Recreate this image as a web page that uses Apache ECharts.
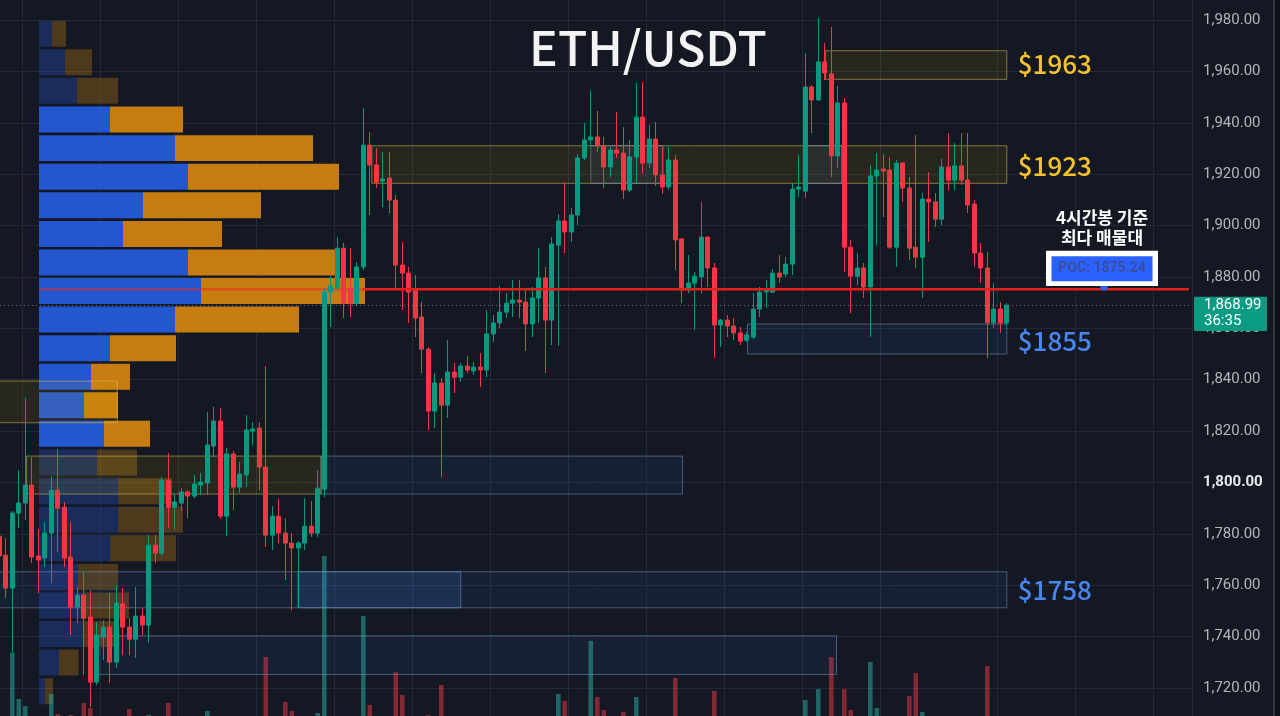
<!DOCTYPE html>
<html>
<head>
<meta charset="utf-8">
<title>ETH/USDT</title>
<script src="https://cdn.jsdelivr.net/npm/echarts@6.0.0/dist/echarts.min.js"></script>
<style>
html,body{margin:0;padding:0;background:#141823;overflow:hidden;}
#chart{width:1280px;height:716px;}
</style>
</head>
<body>
<div id="chart"></div>
<script>
// ---------------- data ----------------
const opens = [
1779.1,1771.7,1758.9,1788.1,1792.0,1799.0,1771.4,1770.6,1780.3,1797.0,
1790.4,1771.0,1751.5,1756.2,1747.6,1722.3,1739.8,1743.7,1730.1,1752.7,
1743.7,1739.0,1748.0,1744.5,1775.6,1772.5,1800.9,1790.4,1792.0,1796.3,
1794.7,1799.0,1799.8,1814.2,1823.9,1786.9,1811.1,1798.2,1802.9,1820.0,
1821.2,1806.0,1779.5,1786.9,1780.3,1776.4,1774.5,1776.4,1783.0,1780.3,
1797.4,1874.1,1875.7,1891.2,1875.7,1869.8,1883.9,1931.3,1923.6,1917.3,
1918.5,1909.9,1884.6,1881.5,1874.9,1864.4,1851.9,1827.8,1838.7,1830.1,
1843.0,1841.0,1845.3,1843.4,1844.9,1843.8,1857.8,1862.1,1866.3,1869.8,
1871.0,1870.2,1861.7,1871.8,1879.6,1863.2,1892.4,1901.8,1897.5,1904.1,
1926.3,1933.3,1934.5,1931.0,1922.8,1929.4,1928.2,1913.8,1926.7,1942.2,
1924.3,1933.7,1919.7,1915.0,1925.5,1894.8,1874.9,1877.6,1880.0,1895.5,
1883.5,1861.3,1863.2,1860.9,1858.2,1855.4,1856.6,1867.5,1874.1,1874.1,
1881.5,1881.1,1885.0,1914.2,1913.4,1953.9,1948.9,1963.7,1959.0,1927.1,
1947.7,1891.6,1880.3,1883.5,1876.1,1919.3,1922.0,1921.6,1891.6,1924.3,
1914.6,1891.6,1887.7,1910.3,1909.2,1902.5,1922.8,1917.7,1923.2,1917.7,
1908.4,1889.3,1883.5,1862.1,1867.5,1862.1
];
const closes = [
1771.4,1758.9,1788.1,1792.0,1799.0,1771.0,1769.8,1780.3,1797.0,1790.0,
1770.6,1751.5,1756.2,1747.2,1722.3,1740.6,1743.7,1730.1,1753.1,1743.7,
1739.0,1748.0,1744.5,1775.6,1772.5,1800.9,1790.4,1792.4,1796.3,1794.7,
1799.4,1800.2,1814.6,1823.9,1786.9,1811.1,1798.2,1803.3,1820.4,1820.8,
1806.0,1779.5,1786.9,1780.3,1776.4,1774.5,1776.4,1783.0,1780.3,1797.8,
1874.1,1876.5,1891.2,1869.8,1869.8,1883.9,1931.3,1923.6,1916.9,1918.1,
1909.9,1884.6,1881.5,1874.1,1864.0,1851.9,1827.8,1838.7,1830.1,1843.0,
1841.0,1845.3,1843.8,1844.9,1843.8,1857.8,1862.1,1866.3,1869.8,1871.0,
1870.2,1861.7,1871.8,1879.6,1863.2,1892.8,1901.8,1897.5,1904.1,1926.3,
1933.3,1934.5,1931.0,1922.8,1929.4,1928.2,1913.8,1926.7,1942.2,1924.3,
1933.7,1919.7,1915.0,1925.5,1894.4,1874.9,1877.6,1880.3,1895.5,1883.5,
1861.3,1863.2,1860.9,1858.2,1855.0,1857.4,1867.5,1874.1,1874.9,1881.5,
1880.0,1885.0,1914.2,1915.0,1953.9,1948.9,1963.7,1959.4,1927.1,1947.7,
1891.6,1880.3,1883.5,1876.1,1919.3,1921.6,1921.2,1891.6,1924.3,1914.6,
1891.2,1887.7,1910.3,1909.2,1902.5,1922.8,1917.7,1923.2,1917.7,1908.0,
1889.3,1883.5,1862.1,1867.5,1862.1,1868.99
];
const highs = [
1783.4,1778.4,1788.9,1804.8,1832.9,1809.9,1781.9,1784.6,1802.5,1813.0,
1792.4,1784.6,1759.3,1765.1,1758.1,1745.7,1746.4,1757.0,1759.7,1758.9,
1747.2,1759.3,1751.1,1779.5,1779.5,1802.1,1811.5,1795.9,1797.8,1797.0,
1802.9,1803.7,1827.4,1829.4,1829.0,1813.4,1812.2,1807.9,1826.2,1823.5,
1823.5,1845.3,1790.8,1793.5,1786.1,1780.3,1777.2,1793.9,1792.8,1804.8,
1875.7,1880.3,1895.5,1893.2,1891.2,1885.8,1945.7,1936.4,1930.2,1928.6,
1928.6,1911.9,1893.6,1883.9,1880.7,1870.2,1852.7,1842.6,1840.6,1855.4,
1846.5,1846.5,1849.2,1846.9,1850.4,1867.1,1865.2,1876.5,1873.7,1878.8,
1878.8,1874.9,1876.1,1891.2,1883.9,1895.5,1904.5,1916.9,1906.8,1927.8,
1939.9,1952.4,1944.6,1934.5,1930.6,1944.2,1938.3,1933.3,1955.5,1955.9,
1939.1,1940.3,1930.6,1930.6,1927.4,1895.1,1888.5,1881.9,1909.2,1895.9,
1885.4,1863.6,1865.2,1864.0,1860.5,1858.6,1873.7,1876.1,1878.8,1883.1,
1888.5,1887.7,1916.6,1927.4,1967.2,1954.7,1980.8,1971.0,1977.3,1954.3,
1949.6,1894.4,1889.3,1885.4,1923.6,1928.2,1927.8,1926.7,1925.5,1924.7,
1918.9,1935.2,1912.7,1920.8,1912.7,1925.9,1936.0,1932.1,1936.0,1936.0,
1909.9,1893.2,1889.7,1877.6,1870.2,1869.8
];
const lows = [
1767.9,1755.0,1733.6,1782.3,1785.4,1768.6,1757.0,1767.1,1760.8,1772.9,
1767.1,1740.6,1745.3,1725.0,1712.6,1721.1,1730.9,1721.9,1727.8,1732.8,
1732.8,1731.7,1740.6,1737.5,1768.6,1771.4,1782.3,1781.5,1788.9,1786.1,
1793.9,1795.1,1795.1,1809.9,1785.8,1779.1,1789.3,1795.9,1798.2,1814.6,
1797.0,1774.9,1773.7,1776.4,1762.0,1750.3,1751.5,1773.7,1778.8,1778.8,
1794.3,1860.5,1874.9,1864.0,1864.4,1868.7,1882.7,1904.1,1914.6,1907.2,
1904.9,1875.7,1867.1,1862.1,1856.6,1842.6,1820.4,1821.2,1802.1,1825.1,
1834.8,1839.1,1842.6,1841.8,1837.1,1841.0,1854.7,1860.1,1864.0,1864.4,
1864.0,1851.2,1856.6,1862.1,1842.6,1853.5,1853.1,1889.3,1893.6,1900.2,
1925.5,1931.3,1928.6,1914.6,1918.9,1926.3,1910.3,1913.0,1916.6,1920.4,
1922.4,1915.4,1912.3,1913.8,1882.7,1869.8,1873.7,1859.3,1873.7,1876.1,
1848.4,1852.7,1856.6,1855.4,1853.5,1854.7,1855.8,1864.4,1867.9,1873.7,
1877.6,1880.0,1880.7,1911.1,1910.7,1936.0,1948.5,1956.6,1918.9,1922.4,
1881.9,1865.9,1876.8,1871.8,1856.6,1892.4,1903.3,1890.9,1883.9,1909.2,
1886.6,1883.5,1871.8,1893.6,1899.4,1900.2,1913.8,1913.8,1915.8,1904.9,
1883.9,1877.6,1848.4,1860.1,1858.2,1861.3
];
// visible part of each volume bar (arbitrary units)
const volumes = [
0,0,63,17,10,0,0,0,22,2,
0,1,0,13,8,0,0,0,0,0,
7,0,0,1,0,0,13,0,0,0,
0,0,5,0,0,0,0,0,0,0,
0,59,0,0,14,5,0,0,0,3,
160,0,0,0,0,0,100,11,0,0,
0,44,21,0,0,0,1,0,31,0,
0,0,0,0,0,0,0,0,0,0,
0,0,0,0,0,0,22,15,0,0,
0,75,19,6,0,0,4,0,19,0,
0,0,0,0,38,0,0,0,0,0,
25,0,0,0,0,0,0,0,0,0,
0,0,0,0,16,0,27,0,59,0,
27,6,0,0,54,8,0,0,0,0,
20,43,4,0,0,0,0,0,0,0,
0,0,50,0,0,0
];
const slotCount = 184;                 // candle slots incl. empty right margin
const priceMin = 1700, priceMax = 2000, priceStep = 20;
const verticalGridSlots = [4,16,28,40,52,64,76,88,100,112,124,136,154,166,178];

// Volume profile (visible range), rows from top
const profileRowTop = [1980.2,1969.1,1958.0,1946.8,1935.7,1924.6,1913.5,1902.3,1891.2,1880.1,1869.0,1857.8,
                       1846.7,1835.6,1824.5,1813.3,1802.2,1791.1,1780.0,1768.8,1757.7,1746.6,1735.5,1724.3];
const profileBinSize = 11.13;
const profileBuy  = [13,26,38,71,136,149,104,84,149,162,136,71,52,45,65,58,79,79,71,39,45,44,20,6];
const profileSell = [14,27,41,73,138,151,118,99,148,164,124,66,39,34,46,40,54,65,66,40,45,36,19.5,8];
const valueAreaRows = [3, 14];
const pocPrice = 1875.24;
const pocLineFrom = 56;

// Zones (start/end in candle slots, prices)
const zoneStart  = [127.1, 57.3, 91.0, 124.2, 115.1, -0.5, 4.2, 49.5, -0.5, 45.95, 14.9];
const zoneEnd    = [155, 155, 102.1, 129.6, 155, 18.15, 49.5, 105.1, 155, 71, 128.8];
const zoneTop    = [1968.05,1931.07,1931.07,1931.07,1861.67,1839.48,1810.28,1810.28,1765.25,1765.25,1740.33];
const zoneBottom = [1956.9,1916.43,1916.43,1916.43,1850.0,1823.25,1795.49,1795.49,1751.23,1751.23,1725.3];
const zoneKind   = ['supply','supply','demand','demand','demand','supply','supply','demand','demand','demandHi','demand'];

const zoneLabels = ['$1963','$1923','$1855','$1758'];
const zoneLabelPrices = [1963,1923,1855,1758];
const zoneLabelKind = ['supply','supply','demand','demand'];

const lastPrice = 1868.99;
const countdown = '36:35';
const titleText = 'ETH/USDT';
const noteText = '4시간봉 기준\n최다 매물대';
const pocText = 'POC: ' + pocPrice.toFixed(2);

// ---------------- styles ----------------
const UP = '#089981', DOWN = '#f23645';
const ZONE_STYLE = {
  supply:   {fill:'rgba(255,214,0,0.085)', stroke:'rgba(214,190,80,0.55)'},
  demand:   {fill:'rgba(66,133,244,0.075)', stroke:'rgba(120,160,200,0.5)'},
  demandHi: {fill:'rgba(66,133,244,0.17)', stroke:'rgba(120,160,200,0.5)'}
};
const LABEL_COLOR = {supply:'#f2c12e', demand:'#4a86f0'};
const KR = '"Noto Sans CJK KR","Noto Sans",sans-serif';

const fmt = v => v.toLocaleString('en-US',{minimumFractionDigits:2, maximumFractionDigits:2});

const chart = echarts.init(document.getElementById('chart'), null, {renderer:'canvas'});
const categories = Array.from({length: slotCount}, (_, i) => 'c' + i);
const vgSet = new Set(verticalGridSlots);

const mainGrid = {left:-3.95, right:87.95, top:-31.38, height:770.8, outerBoundsMode:'none'};

function renderProfile(params, api) {
  const i = params.dataIndex;
  const top = api.value(0), buy = api.value(1), sell = api.value(2);
  const bottom = top - profileBinSize;
  const a = api.coord([0, top]);
  const b = api.coord([buy, bottom]);
  const c = api.coord([buy + sell, bottom]);
  const inVA = i >= valueAreaRows[0] && i <= valueAreaRows[1];
  const y = a[1] + 1.3, h = (b[1] - a[1]) - 2.6;
  const kids = [
    {type:'rect', shape:{x:a[0], y:y, width:b[0]-a[0], height:h}, style:{fill: inVA ? '#2456cf' : 'rgba(36,86,207,0.33)'}},
    {type:'rect', shape:{x:b[0], y:y, width:c[0]-b[0], height:h}, style:{fill: inVA ? '#c67c10' : 'rgba(198,124,16,0.33)'}}
  ];
  if (pocPrice <= top && pocPrice > bottom) {
    const py = api.coord([0, pocPrice])[1];
    kids.push({type:'line', shape:{x1:a[0], y1:py, x2:c[0], y2:py}, style:{stroke:'rgba(235,35,35,0.5)', lineWidth:2.5}});
  }
  return {type:'group', children:kids};
}

function renderZone(params, api) {
  const s = api.value(0), e = api.value(1), t = api.value(2), btm = api.value(3);
  const base = api.coord([0, t]);
  const band = api.size([1, 0])[0];
  const x0 = base[0] + s * band, x1 = base[0] + e * band;
  const y1 = api.coord([0, btm])[1];
  const st = ZONE_STYLE[zoneKind[params.dataIndex]];
  return {type:'rect', shape:{x:x0, y:base[1], width:x1-x0, height:y1-base[1]},
          style:{fill:st.fill, stroke:st.stroke, lineWidth:1}};
}

function renderZoneLabel(params, api) {
  const i = params.dataIndex;
  const p = api.coord([api.value(0), api.value(1)]);
  return {type:'text', x:p[0] + 11, y:p[1],
    style:{text:zoneLabels[i], fill:LABEL_COLOR[zoneLabelKind[i]], fontSize:26, fontFamily:KR, fontWeight:500,
           align:'left', verticalAlign:'middle'}};
}

const option = {
  animation:false,
  backgroundColor:'#141823',
  grid:[
    mainGrid,
    {left:-3.95, right:87.95, bottom:0, height:200, outerBoundsMode:'none'},
    {left:39, width:1000, top:-31.38, height:770.8, outerBoundsMode:'none'}
  ],
  xAxis:[
    {type:'category', gridIndex:0, data:categories, boundaryGap:true,
     axisLine:{show:false}, axisTick:{show:false}, axisLabel:{show:false},
     splitLine:{show:true, interval:(idx) => vgSet.has(idx), lineStyle:{color:'#232835', width:1}}},
    {type:'category', gridIndex:1, data:categories, boundaryGap:true, show:false},
    {type:'value', gridIndex:2, min:0, max:1000, show:false}
  ],
  yAxis:[
    {type:'value', gridIndex:0, position:'right', min:priceMin, max:priceMax, interval:priceStep,
     axisLine:{show:false}, axisTick:{show:false},
     splitLine:{show:true, lineStyle:{color:'#232835', width:1}},
     axisLabel:{margin:11, color:'#b2b5be', fontSize:15, fontFamily:'Roboto',
       formatter:(v) => v === 1800 ? '{b|' + fmt(v) + '}' : fmt(v),
       rich:{b:{color:'#e6e8ee', fontWeight:'bold', fontSize:15, fontFamily:'Roboto'}}}},
    {type:'value', gridIndex:1, min:0, max:200, show:false},
    {type:'value', gridIndex:2, min:priceMin, max:priceMax, show:false}
  ],
  series:[
    {type:'custom', name:'profile', xAxisIndex:2, yAxisIndex:2, z:1,
     data: profileRowTop.map((t, i) => [t, profileBuy[i], profileSell[i]]),
     encode:{x:1, y:0}, renderItem:renderProfile, silent:true},
    {type:'bar', name:'volume', xAxisIndex:1, yAxisIndex:1, z:2, barWidth:4.6, silent:true,
     data: volumes.map((v, i) => ({value:v, itemStyle:{color: closes[i] >= opens[i] ? 'rgba(38,166,154,0.55)' : 'rgba(242,54,69,0.5)'}}))},
    {type:'custom', name:'zones', xAxisIndex:0, yAxisIndex:0, z:3, clip:false, silent:true,
     data: zoneStart.map((s, i) => [s, zoneEnd[i], zoneTop[i], zoneBottom[i]]),
     encode:{x:[0,1], y:[2,3]}, renderItem:renderZone},
    {type:'candlestick', name:'ETH/USDT', xAxisIndex:0, yAxisIndex:0, z:4, barWidth:4.6,
     data: opens.map((o, i) => [o, closes[i], lows[i], highs[i]]),
     itemStyle:{color:UP, color0:DOWN, borderColor:UP, borderColor0:DOWN, borderWidth:1},
     markLine:{silent:true, symbol:['none','none'], label:{show:false},
       lineStyle:{color:'rgba(170,175,190,0.6)', type:[1,3], width:1},
       data:[{yAxis:lastPrice}]}},
    {type:'line', name:'POC', xAxisIndex:0, yAxisIndex:0, z:6, symbol:'none', silent:true,
     data:[[pocLineFrom, pocPrice], [slotCount - 1, pocPrice]],
     lineStyle:{color:'#e3201b', width:2.5}},
    {type:'custom', name:'zoneLabels', xAxisIndex:0, yAxisIndex:0, z:7, clip:false, silent:true,
     data: zoneLabelPrices.map(p => [opens.length - 1, p]),
     encode:{x:0, y:1}, renderItem:renderZoneLabel}
  ]
};
chart.setOption(option);

// ---- annotations anchored to prices through the chart's own scales ----
const pocY = chart.convertToPixel({xAxisIndex:0, yAxisIndex:0}, [0, pocPrice])[1];
const lastY = chart.convertToPixel({xAxisIndex:0, yAxisIndex:0}, [0, lastPrice])[1];
const noteX = 1102;
chart.setOption({
  graphic:[
    {type:'text', x:648, y:48, z:100,
     style:{text:titleText, fill:'#f4f4f4', fontSize:48, fontFamily:KR, fontWeight:500, align:'center', verticalAlign:'middle'}},
    {type:'text', x:noteX, y:pocY - 61.6, z:100,
     style:{text:noteText, fill:'#ffffff', fontSize:17, fontFamily:KR, fontWeight:'bold', lineHeight:19.5, align:'center', verticalAlign:'middle'}},
    {type:'rect', z:100, shape:{x:noteX - 56, y:pocY - 38.4, width:112, height:35.3}, style:{fill:'#ffffff'}},
    {type:'rect', z:101, shape:{x:noteX - 50.5, y:pocY - 33, width:101, height:25}, style:{fill:'#2962ff'}},
    {type:'text', x:noteX, y:pocY - 20.5, z:102,
     style:{text:pocText, fill:'#3b4d9a', fontSize:14, fontFamily:'Roboto', fontWeight:'bold', align:'center', verticalAlign:'middle'}},
    {type:'circle', z:99, shape:{cx:noteX + 2, cy:pocY - 2, r:3.5}, style:{fill:'#2962ff'}},
    {type:'rect', z:100, shape:{x:1194, y:lastY - 8.5, width:73, height:34.3, r:1}, style:{fill:'#0b9a82'}},
    {type:'text', x:1204, y:lastY + 0.5, z:101,
     style:{text:fmt(lastPrice), fill:'#ffffff', fontSize:15, fontFamily:'Roboto', align:'left', verticalAlign:'middle'}},
    {type:'text', x:1204, y:lastY + 16.5, z:101,
     style:{text:countdown, fill:'#ffffff', fontSize:15, fontFamily:'Roboto', align:'left', verticalAlign:'middle'}},
    {type:'rect', z:100, shape:{x:1273, y:0, width:2, height:716}, style:{fill:'#333742'}},
    {type:'rect', z:100, shape:{x:1275, y:0, width:5, height:716}, style:{fill:'#0d1016'}}
  ]
});
</script>
</body>
</html>
